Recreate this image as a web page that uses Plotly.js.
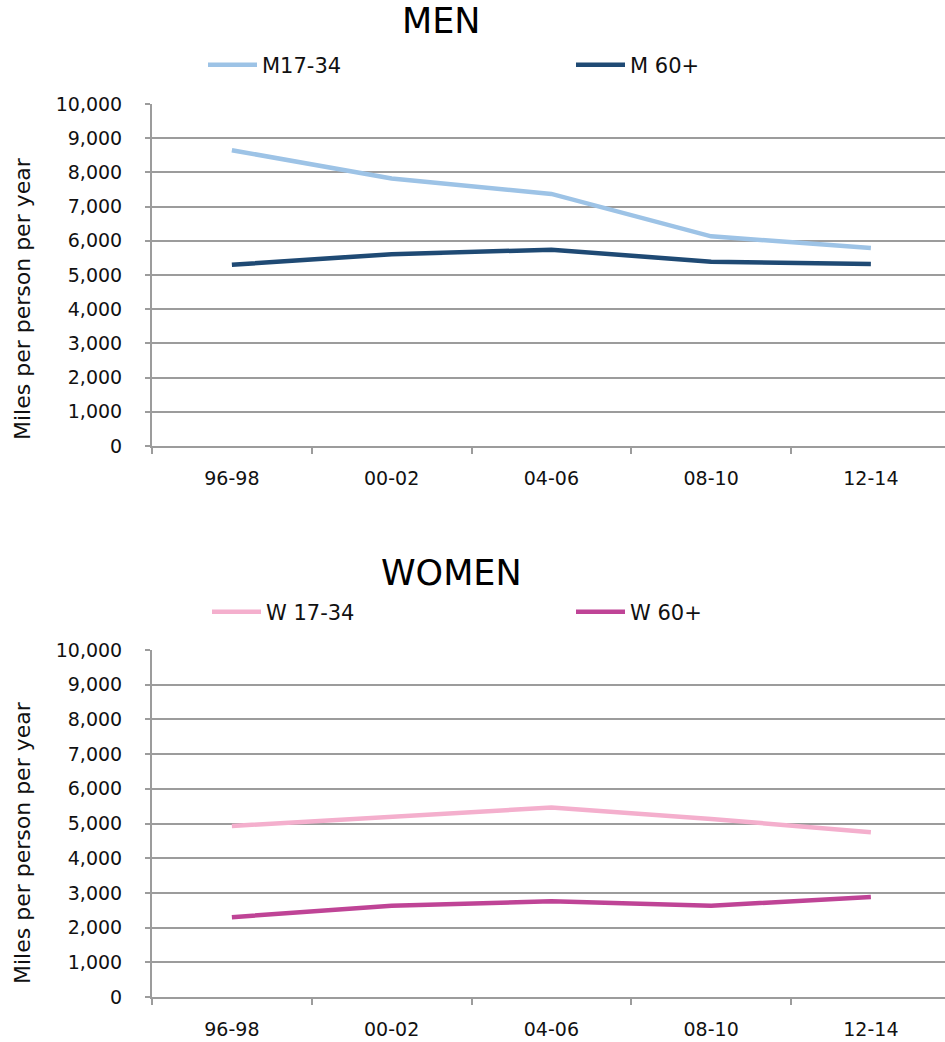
<!DOCTYPE html>
<html>
<head>
<meta charset="utf-8">
<script src="https://cdn.plot.ly/plotly-3.0.1.min.js"></script>
<style>html,body{margin:0;padding:0;background:#fff;}#chart{width:945px;height:1042px;}</style>
</head>
<body>
<div id="chart"></div>
<script>
// ---- data ----
const periods = ['96-98', '00-02', '04-06', '08-10', '12-14'];
const menYoung = [8650, 7820, 7370, 6130, 5790];   // M17-34
const menOld = [5300, 5610, 5740, 5390, 5320];     // M 60+
const womenYoung = [4930, 5190, 5460, 5130, 4750]; // W 17-34
const womenOld = [2300, 2630, 2760, 2630, 2880];   // W 60+
const yTickVals = [0, 1000, 2000, 3000, 4000, 5000, 6000, 7000, 8000, 9000, 10000];
const seriesNames = ['M17-34', 'M 60+', 'W 17-34', 'W 60+'];
const chartTitles = ['MEN', 'WOMEN'];
const yTitle = 'Miles per person per year';

const FONT = 'DejaVu Sans, Liberation Sans, Arial, sans-serif';
const GRID = '#9c9c9c';
const H = 1042, W = 945, L = 152;

const traces = [
  {x: periods, y: menYoung, name: seriesNames[0], type: 'scatter', mode: 'lines',
   line: {color: '#9dc3e6', width: 4.5}, xaxis: 'x', yaxis: 'y', legend: 'legend'},
  {x: periods, y: menOld, name: seriesNames[1], type: 'scatter', mode: 'lines',
   line: {color: '#1f4a74', width: 4.5}, xaxis: 'x', yaxis: 'y', legend: 'legend'},
  {x: periods, y: womenYoung, name: seriesNames[2], type: 'scatter', mode: 'lines',
   line: {color: '#f4afcd', width: 4.5}, xaxis: 'x2', yaxis: 'y2', legend: 'legend2'},
  {x: periods, y: womenOld, name: seriesNames[3], type: 'scatter', mode: 'lines',
   line: {color: '#bf4496', width: 4.5}, xaxis: 'x2', yaxis: 'y2', legend: 'legend2'}
];

function xAxis(anchor) {
  return {
    type: 'category', anchor: anchor, domain: [0, 1],
    range: [-0.5, 4.464], tickson: 'boundaries',
    showgrid: false, zeroline: false,
    showline: true, linecolor: GRID, linewidth: 2,
    ticks: 'outside', ticklen: 6, tickwidth: 2, tickcolor: GRID,
    ticklabelstandoff: 14,
    tickfont: {family: FONT, size: 19, color: '#111'},
    automargin: false, fixedrange: true
  };
}
function yAxis(anchor, domain) {
  return {
    anchor: anchor, domain: domain, range: [0, 10000],
    tickmode: 'array', tickvals: yTickVals,
    tickformat: ',d',
    showgrid: true, gridcolor: GRID, gridwidth: 2,
    zeroline: false,
    showline: true, linecolor: GRID, linewidth: 2,
    ticks: 'outside', ticklen: 5, tickwidth: 2, tickcolor: GRID,
    ticklabelstandoff: 19,
    tickfont: {family: FONT, size: 19, color: '#111'},
    automargin: false, fixedrange: true
  };
}

function px(xPix) { return (xPix - L) / (W - L); }
function py(yPix) { return 1 - yPix / H; }

const layout = {
  width: W, height: H,
  margin: {l: L, r: 0, t: 0, b: 0},
  paper_bgcolor: '#fff', plot_bgcolor: '#fff',
  font: {family: FONT, color: '#111'},
  xaxis: xAxis('y'),
  yaxis: yAxis('x', [py(446), py(104)]),
  xaxis2: xAxis('y2'),
  yaxis2: yAxis('x2', [py(997), py(650)]),
  legend: {
    orientation: 'h', xref: 'paper', yref: 'paper',
    x: px(203), y: py(65), xanchor: 'left', yanchor: 'middle',
    font: {family: FONT, size: 21, color: '#111'},
    itemwidth: 49, entrywidth: 304, entrywidthmode: 'pixels',
    bgcolor: 'rgba(0,0,0,0)', tracegroupgap: 0
  },
  legend2: {
    orientation: 'h', xref: 'paper', yref: 'paper',
    x: px(207), y: py(612), xanchor: 'left', yanchor: 'middle',
    font: {family: FONT, size: 21, color: '#111'},
    itemwidth: 49, entrywidth: 300, entrywidthmode: 'pixels',
    bgcolor: 'rgba(0,0,0,0)', tracegroupgap: 0
  },
  annotations: [
    {text: chartTitles[0], xref: 'paper', yref: 'paper', x: px(441), y: py(21),
     xanchor: 'center', yanchor: 'middle', showarrow: false,
     font: {family: FONT, size: 35, color: '#000'}},
    {text: chartTitles[1], xref: 'paper', yref: 'paper', x: px(451), y: py(573),
     xanchor: 'center', yanchor: 'middle', showarrow: false,
     font: {family: FONT, size: 35, color: '#000'}},
    {text: yTitle, xref: 'paper', yref: 'paper', x: px(22), y: py(299),
     xanchor: 'center', yanchor: 'middle', showarrow: false, textangle: -90,
     font: {family: FONT, size: 22, color: '#111'}},
    {text: yTitle, xref: 'paper', yref: 'paper', x: px(22), y: py(843),
     xanchor: 'center', yanchor: 'middle', showarrow: false, textangle: -90,
     font: {family: FONT, size: 22, color: '#111'}}
  ],
  showlegend: true
};

Plotly.newPlot('chart', traces, layout, {displayModeBar: false, staticPlot: true});
</script>
</body>
</html>
